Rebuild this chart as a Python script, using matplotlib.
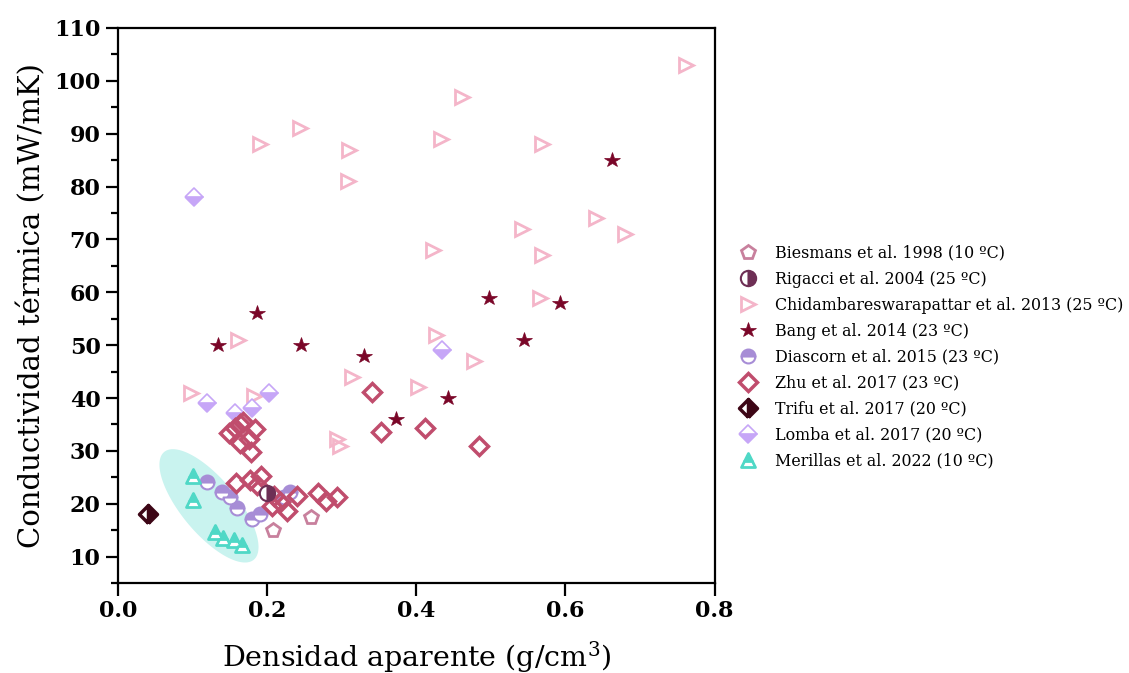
import numpy as np
import matplotlib
matplotlib.use("Agg")
import matplotlib.pyplot as plt
from matplotlib.markers import MarkerStyle
from matplotlib.ticker import MultipleLocator, FormatStrFormatter

plt.rcParams['font.family'] = ['DejaVu Serif']
plt.rcParams['mathtext.fontset'] = 'dejavuserif'

# data (density g/cm3, conductivity mW/mK)
biesmans_x = [0.208, 0.259]
biesmans_y = [15.0, 17.5]

rigacci_x = [0.200]
rigacci_y = [22.0]

chid_x = [0.761, 0.461, 0.244, 0.191, 0.310, 0.433, 0.568, 0.308, 0.641, 0.542,
          0.680, 0.423, 0.568, 0.566, 0.161, 0.427, 0.478, 0.314, 0.402, 0.293,
          0.298, 0.183, 0.098]
chid_y = [103.0, 97.0, 91.0, 88.0, 87.0, 89.0, 88.0, 81.0, 74.0, 72.0,
          71.0, 68.0, 67.0, 59.0, 51.0, 52.0, 47.0, 44.0, 42.0, 32.3,
          31.0, 40.3, 41.0]

bang_x = [0.663, 0.498, 0.593, 0.544, 0.186, 0.134, 0.245, 0.330, 0.373, 0.443]
bang_y = [85.0, 59.0, 58.0, 51.0, 56.0, 50.0, 50.0, 48.0, 36.0, 40.0]

diascorn_x = [0.119, 0.139, 0.150, 0.160, 0.180, 0.190, 0.222, 0.230]
diascorn_y = [24.1, 22.2, 21.2, 19.2, 17.1, 18.1, 21.2, 22.2]

zhu_x = [0.341, 0.352, 0.411, 0.484, 0.149, 0.157, 0.163, 0.168, 0.184, 0.164,
         0.175, 0.178, 0.158, 0.177, 0.192, 0.187, 0.206, 0.217, 0.226, 0.240,
         0.268, 0.279, 0.293, 0.209]
zhu_y = [41.2, 33.6, 34.3, 30.9, 33.3, 34.3, 35.0, 35.5, 34.2, 31.4,
         32.2, 29.8, 24.0, 24.4, 25.2, 23.6, 19.5, 20.3, 18.6, 21.4,
         22.0, 20.6, 21.3, 21.5]

trifu_x = [0.040]
trifu_y = [18.0]

lomba_x = [0.102, 0.435, 0.120, 0.157, 0.180, 0.203]
lomba_y = [78.0, 49.0, 39.0, 37.2, 38.1, 41.0]

merillas_x = [0.101, 0.101, 0.130, 0.141, 0.155, 0.166]
merillas_y = [25.3, 20.8, 14.7, 13.5, 13.1, 12.2]

# highlight ellipse around the Merillas points (centre and conjugate semi-axes, data units)
ell_center = (0.122, 19.6)
ell_axis1 = (0.0600, -10.2)
ell_axis2 = (0.0285, 3.3)

fig = plt.figure(figsize=(11.29, 6.73), dpi=100)
ax = fig.add_axes([0.1045, 0.1337, 0.5285, 0.8247])

t = np.linspace(0, 2 * np.pi, 200)
ex = ell_center[0] + np.cos(t) * ell_axis1[0] + np.sin(t) * ell_axis2[0]
ey = ell_center[1] + np.cos(t) * ell_axis1[1] + np.sin(t) * ell_axis2[1]
ax.fill(ex, ey, color='#c9f3ef', lw=0, zorder=1)


def half(m, fs):
    # half-filled marker with round joins (avoids miter spikes)
    return MarkerStyle(m, fillstyle=fs, joinstyle='round')


ms = 10
mew = 2.0
h = []
h += ax.plot(biesmans_x, biesmans_y, 'p', ms=ms, mew=mew, mfc='none', mec='#c8809d',
             ls='none', label='Biesmans et al. 1998 (10 ºC)', zorder=3)
h += ax.plot(rigacci_x, rigacci_y, marker=half('o', 'right'), ms=ms + 1, mew=1.5, mfc='#6e2f55',
             mfcalt='white', mec='#6e2f55', ls='none', label='Rigacci et al. 2004 (25 ºC)', zorder=5)
h += ax.plot(chid_x, chid_y, '>', ms=ms, mew=mew, mfc='none', mec='#f4b5c9',
             ls='none', label='Chidambareswarapattar et al. 2013 (25 ºC)', zorder=2)
h += ax.plot(bang_x, bang_y, '*', ms=ms + 1.5, mew=0.5, mfc='#7a0628', mec='#7a0628',
             ls='none', label='Bang et al. 2014 (23 ºC)', zorder=3)
h += ax.plot(diascorn_x, diascorn_y, marker=half('o', 'top'), ms=ms, mew=1.5, mfc='#a78dd6',
             mfcalt='white', mec='#a78dd6', ls='none', label='Diascorn et al. 2015 (23 ºC)', zorder=3)
h += ax.plot(zhu_x, zhu_y, 'D', ms=ms - 1, mew=mew + 0.5, mfc='none', mec='#c04d6d',
             ls='none', label='Zhu et al. 2017 (23 ºC)', zorder=4)
h += ax.plot(trifu_x, trifu_y, marker=half('D', 'right'), ms=ms - 1, mew=2.5, mfc='#3d0616',
             mfcalt='white', mec='#3d0616', ls='none', label='Trifu et al. 2017 (20 ºC)', zorder=3)
h += ax.plot(lomba_x, lomba_y, marker=half('D', 'bottom'), ms=ms - 1, mew=1.2, mfc='#c6a6f7',
             mfcalt='white', mec='#c6a6f7', ls='none', label='Lomba et al. 2017 (20 ºC)', zorder=3)
h += ax.plot(merillas_x, merillas_y, marker=half('^', 'top'), ms=ms, mew=2.0, mfc='#4fd8c6',
             mfcalt='white', mec='#4fd8c6', ls='none', label='Merillas et al. 2022 (10 ºC)', zorder=3)

ax.set_xlim(0, 0.8)
ax.set_ylim(5, 110)
ax.xaxis.set_major_locator(MultipleLocator(0.2))
ax.xaxis.set_major_formatter(FormatStrFormatter('%.1f'))
ax.set_yticks(np.arange(10, 111, 10))
ax.yaxis.set_minor_locator(MultipleLocator(5))

for s in ax.spines.values():
    s.set_linewidth(1.6)
ax.tick_params(axis='both', which='major', direction='out', length=9, width=1.6,
               labelsize=16, top=False, right=False)
ax.tick_params(axis='y', which='minor', direction='out', length=5, width=1.6)
for lab in ax.get_xticklabels() + ax.get_yticklabels():
    lab.set_fontweight('bold')

ax.set_xlabel('Densidad aparente (g/cm$^3$)', fontsize=20.5, labelpad=12)
ax.set_ylabel('Conductividad térmica (mW/mK)', fontsize=21, labelpad=6)

fig.legend(handles=h, loc='upper left', bbox_to_anchor=(0.6528, 0.6367), frameon=False,
           fontsize=11.4, handlelength=1.4, handletextpad=1.0, labelspacing=0.57,
           borderpad=0, borderaxespad=0)

fig.savefig('out.png', dpi=100)
